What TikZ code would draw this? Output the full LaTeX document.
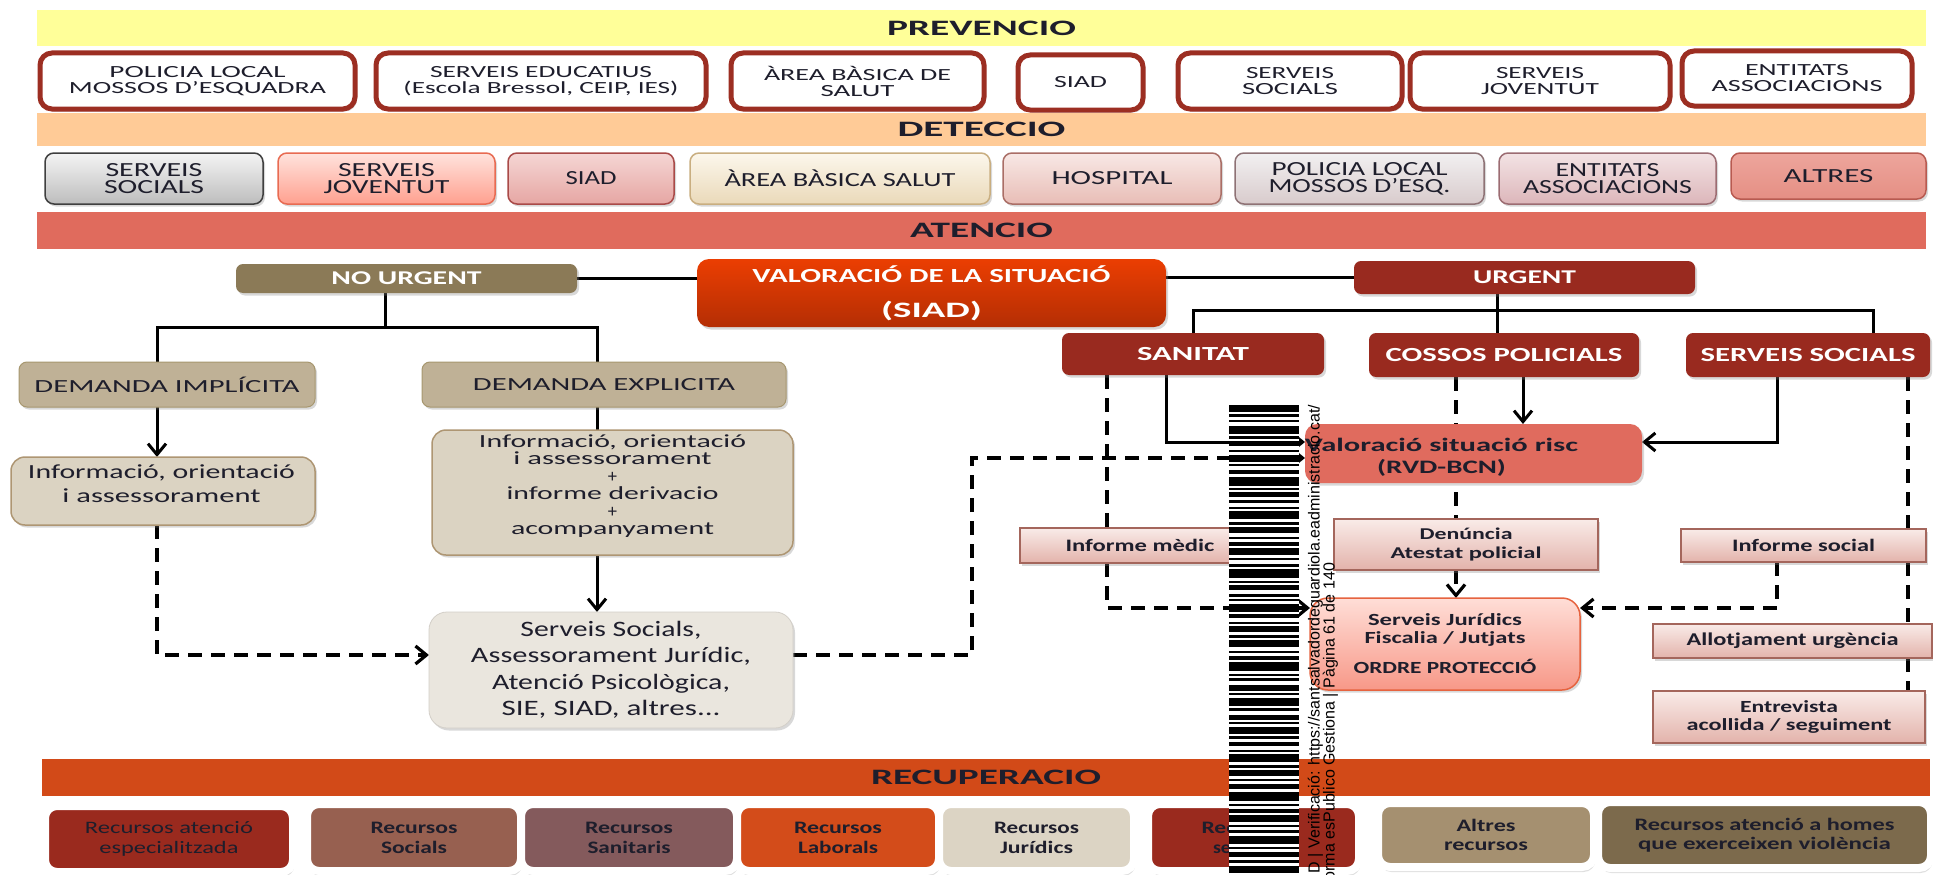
\documentclass[tikz,border=0pt]{standalone}
\usepackage{fontspec}
\setmainfont{Carlito}
\newfontfamily\stampfont{Liberation Sans}
\usepackage{graphicx}
\usetikzlibrary{arrows.meta,shadows}
\pgfdeclarelayer{conn}
\pgfsetlayers{conn,main}
\newcommand\sw[2]{\resizebox{#1pt}{\height}{#2}}
\newcommand\fs[2]{\fontsize{#1}{#2}\selectfont}
\definecolor{txt}{HTML}{1E1E2C}
\definecolor{cprev}{HTML}{FFFF99}
\definecolor{cdet}{HTML}{FFCB97}
\definecolor{caten}{HTML}{E06B5D}
\definecolor{crec}{HTML}{D24A18}
\definecolor{pred}{HTML}{9C2E22}
\definecolor{urg}{HTML}{992A1F}
\definecolor{nourgc}{HTML}{8B7A57}
\definecolor{demc}{HTML}{BFB196}
\definecolor{demd}{HTML}{A7976F}
\definecolor{infc}{HTML}{DBD3C2}
\definecolor{infd}{HTML}{AE9673}
\definecolor{ssc}{HTML}{EAE6DE}
\definecolor{rvdc}{HTML}{E06B5E}
\definecolor{pkt}{HTML}{F9EBE8}
\definecolor{pkb}{HTML}{E3B3AB}
\definecolor{pkd}{HTML}{A4665C}
\definecolor{sjt}{HTML}{FFDED7}
\definecolor{sjb}{HTML}{F79888}
\definecolor{sjd}{HTML}{E6633F}
\definecolor{vst}{HTML}{EB3E02}
\definecolor{vsb}{HTML}{B42E04}
\definecolor{d1t}{HTML}{F4F4F4}\definecolor{d1b}{HTML}{BDBDBD}\definecolor{d1d}{HTML}{3F3F3F}
\definecolor{d2t}{HTML}{FFE3DD}\definecolor{d2b}{HTML}{FFA08F}\definecolor{d2d}{HTML}{E86B52}
\definecolor{d3t}{HTML}{F5D6D4}\definecolor{d3b}{HTML}{E6A6A3}\definecolor{d3d}{HTML}{A94A48}
\definecolor{d4t}{HTML}{FCF7EC}\definecolor{d4b}{HTML}{EAD9B9}\definecolor{d4d}{HTML}{C9AE80}
\definecolor{d5t}{HTML}{F8E8E5}\definecolor{d5b}{HTML}{E8BDB6}\definecolor{d5d}{HTML}{AA6E66}
\definecolor{d6t}{HTML}{F2F0F1}\definecolor{d6b}{HTML}{D8CBCC}\definecolor{d6d}{HTML}{8E7275}
\definecolor{d7t}{HTML}{F3E3E4}\definecolor{d7b}{HTML}{DCB6BA}\definecolor{d7d}{HTML}{9C6C72}
\definecolor{d8t}{HTML}{EDA59C}\definecolor{d8b}{HTML}{E58F84}\definecolor{d8d}{HTML}{B85A50}
\definecolor{r1}{HTML}{9A2A1E}
\definecolor{r2}{HTML}{976050}
\definecolor{r3}{HTML}{845A5C}
\definecolor{r4}{HTML}{D34C1A}
\definecolor{r5}{HTML}{DCD4C4}
\definecolor{r6}{HTML}{9A2A1E}
\definecolor{r7}{HTML}{A59070}
\definecolor{r8}{HTML}{7C6A4C}
\tikzset{
 every node/.style={inner sep=0pt, outer sep=0pt, align=center, text=txt, font=\fs{18}{20}},
 wh/.style 2 args={minimum width=#1pt, minimum height=#2pt},
 shd/.style={drop shadow={shadow xshift=2pt, shadow yshift=-2.5pt, opacity=0.3}},
 band/.style={font=\fs{22}{24}\bfseries},
 pbox/.style={draw=pred, line width=5pt, fill=white, rounded corners=12pt, shd, font=\fs{17}{16}},
 dbox/.style n args={3}{top color=#1, bottom color=#2, draw=#3, line width=1.5pt, rounded corners=9pt, shd, font=\fs{20}{17}},
 ubox/.style={fill=urg, rounded corners=7pt, shd, text=white, font=\fs{20}{22}\bfseries},
 dem/.style={fill=demc, draw=demd, line width=1pt, rounded corners=8pt, shd, font=\fs{18.5}{20}},
 info/.style={fill=infc, draw=infd, line width=1.5pt, rounded corners=14pt, shd},
 ssb/.style={fill=ssc, draw=ssc!90!black, line width=.8pt, rounded corners=18pt, shd},
 rvdb/.style={fill=rvdc, rounded corners=12pt, shd},
 pk/.style={top color=pkt, bottom color=pkb, draw=pkd, line width=1.3pt, shd, font=\fs{17.5}{19}\bfseries},
 sjbox/.style={top color=sjt, bottom color=sjb, draw=sjd, line width=1.5pt, rounded corners=18pt, shd, font=\fs{17}{18}\bfseries},
 bb/.style={draw=white, line width=8pt, rounded corners=12pt, drop shadow={shadow xshift=1.5pt, shadow yshift=-5pt, opacity=0.25}, font=\fs{17.5}{20}\bfseries},
 sl/.style={line width=3pt},
 dl/.style={line width=3.2pt, dash pattern=on 14pt off 9pt},
 arr/.style={-{Straight Barb[length=11pt,width=18pt]}},
}
\begin{document}
\begin{tikzpicture}[x=1pt,y=-1pt]
\useasboundingbox (0,0) rectangle (1933,875);
\begin{scope}
\clip (0,0) rectangle (1933,875);
% bands
\node[band, fill=cprev, wh={1889}{36}] (prev) at (981.5,28) {\sw{189}{PREVENCIO}};
\node[band, fill=cdet, wh={1889}{33}] (det) at (981.5,129.5) {\sw{168}{DETECCIO}};
\node[band, fill=caten, wh={1889}{37}] (aten) at (981.5,230.5) {\sw{143}{ATENCIO}};
\node[band, fill=crec, wh={1888}{37}] (recu) at (986,777.5) {\sw{230}{RECUPERACIO}};
% prevencio
\node[pbox, wh={315}{56}] (p1) at (197.5,81) {\sw{176}{POLICIA LOCAL}\\\sw{257}{MOSSOS D’ESQUADRA}};
\node[pbox, wh={330}{56}] (p2) at (541,81) {\sw{222}{SERVEIS EDUCATIUS}\\\sw{275}{(Escola Bressol, CEIP, IES)}};
\node[pbox, wh={253}{56}] (p3) at (857.5,81) {\sw{187}{ÀREA BÀSICA DE}\\\sw{74}{SALUT}};
\node[pbox, wh={125}{55}] (p4) at (1080.5,82.5) {\sw{53}{SIAD}};
\node[pbox, wh={224}{56}] (p5) at (1290,81) {\sw{88}{SERVEIS}\\\sw{96}{SOCIALS}};
\node[pbox, wh={260}{56}] (p6) at (1540,81) {\sw{88}{SERVEIS}\\\sw{118}{JOVENTUT}};
\node[pbox, wh={230}{55}] (p7) at (1797,78.5) {\sw{104}{ENTITATS}\\\sw{171}{ASSOCIACIONS}};
% deteccio
\node[dbox={d1t}{d1b}{d1d}, wh={218}{51}] (d1) at (154,178.5) {\sw{97}{SERVEIS}\\\sw{100}{SOCIALS}};
\node[dbox={d2t}{d2b}{d2d}, wh={217}{51}] (d2) at (386.5,178.5) {\sw{97}{SERVEIS}\\\sw{126}{JOVENTUT}};
\node[dbox={d3t}{d3b}{d3d}, wh={166}{51}] (d3) at (591,178.5) {\sw{51}{SIAD}};
\node[dbox={d4t}{d4b}{d4d}, wh={300}{51}] (d4) at (840,178.5) {\sw{231}{ÀREA BÀSICA SALUT}};
\node[dbox={d5t}{d5b}{d5d}, wh={218}{51}] (d5) at (1112,178.5) {\sw{121}{HOSPITAL}};
\node[dbox={d6t}{d6b}{d6d}, wh={249}{51}] (d6) at (1359.5,178.5) {\sw{176}{POLICIA LOCAL}\\\sw{182}{MOSSOS D’ESQ.}};
\node[dbox={d7t}{d7b}{d7d}, wh={217}{51}] (d7) at (1607.5,178.5) {\sw{104}{ENTITATS}\\\sw{169}{ASSOCIACIONS}};
\node[dbox={d8t}{d8b}{d8d}, wh={195}{46}] (d8) at (1828.5,176) {\sw{90}{ALTRES}};
% atencio
\node[ubox, fill=nourgc, wh={341}{29}, font=\fs{19.5}{20}\bfseries] (nourg) at (406.5,278.5) {\sw{150}{NO URGENT}};
\node[top color=vst, bottom color=vsb, rounded corners=12pt, shd, text=white, font=\fs{20}{35}\bfseries, wh={469}{68}] (valsit) at (931.5,293) {\sw{358}{VALORACIÓ DE LA SITUACIÓ}\\{\fontsize{22}{35}\selectfont\sw{101}{(SIAD)}}};
\node[ubox, wh={341}{33}, font=\fs{19.5}{20}\bfseries] (urgent) at (1524.5,277.5) {\sw{103}{URGENT}};
\node[ubox, wh={262}{42}] (sanitat) at (1193,354) {\sw{112}{SANITAT}};
\node[ubox, wh={270}{44}] (cossos) at (1504,355) {\sw{237}{COSSOS POLICIALS}};
\node[ubox, wh={244}{44}] (ssurg) at (1808,355) {\sw{215}{SERVEIS SOCIALS}};
\node[dem, wh={296}{45}] (impl) at (167,384.5) {\sw{265}{DEMANDA IMPLÍCITA}};
\node[dem, wh={364}{45}] (expl) at (604,384.5) {\sw{262}{DEMANDA EXPLICITA}};
\node[info, wh={304}{68}] (infoL) at (163,491) {};
\node[font=\fs{20}{24}] (infoLt) at (161.5,484) {\sw{267}{Informació, orientació}\\\sw{198}{i assessorament}};
\node[info, wh={361}{125}] (infoE) at (612.5,492.5) {};
\node[font=\fs{18.5}{17.5}] (infoEt) at (612.5,486) {\sw{267}{Informació, orientació}\\\sw{198}{i assessorament}\\+\\\sw{212}{informe derivacio}\\+\\\sw{203}{acompanyament}};
\node[ssb, wh={364}{116}, font=\fs{22}{26.5}] (ss) at (611,670) {\sw{181}{Serveis Socials,}\\\sw{280}{Assessorament Jurídic,}\\\sw{238}{Atenció Psicològica,}\\\sw{219}{SIE, SIAD, altres...}};
\node[rvdb, wh={337}{59}] (rvd) at (1473.5,453.5) {};
\node[font=\fs{19}{22}\bfseries] (rvdt) at (1441.5,457) {\sw{273}{Valoració situació risc}\\\sw{129}{(RVD-BCN)}};
\node[pk, wh={240}{35}] (imed) at (1140,545.5) {\sw{149}{Informe mèdic}};
\node[pk, wh={264}{51}, font=\fs{16.5}{19}\bfseries] (den) at (1466,544.5) {\sw{93}{Denúncia}\\\sw{151}{Atestat policial}};
\node[pk, wh={245}{33}] (isoc) at (1803.5,545.5) {\sw{143}{Informe social}};
\node[sjbox, wh={270}{92}] (sj) at (1445,644) {\sw{154}{Serveis Jurídics}\\\sw{161}{Fiscalia / Jutjats}\\[12pt]\sw{183}{ORDRE PROTECCIÓ}};
\node[pk, wh={279}{34}, font=\fs{18}{18}\bfseries] (allot) at (1792.5,641) {\sw{212}{Allotjament urgència}};
\node[pk, wh={272}{52}, font=\fs{17}{18}\bfseries] (entrev) at (1789,717) {\sw{98}{Entrevista}\\\sw{205}{acollida / seguiment}};
% recuperacio
\node[bb, fill=r1, wh={248}{66}, font=\fs{17.5}{20}] (b1) at (169,839) {\sw{168}{Recursos atenció}\\\sw{139}{especialitzada}};
\node[bb, fill=r2, wh={214}{67}] (b2) at (414,837.5) {\sw{87}{Recursos}\\\sw{66}{Socials}};
\node[bb, fill=r3, wh={216}{67}] (b3) at (629,837.5) {\sw{88}{Recursos}\\\sw{83}{Sanitaris}};
\node[bb, fill=r4, wh={202}{67}] (b4) at (838,837.5) {\sw{88}{Recursos}\\\sw{80}{Laborals}};
\node[bb, fill=r5, wh={195}{67}] (b5) at (1036.5,837.5) {\sw{85}{Recursos}\\\sw{73}{Jurídics}};
\node[bb, fill=r6, wh={211}{67}] (b6) at (1253.5,837.5) {};
\node[font=\fs{17.5}{20}\bfseries] (b6t) at (1245,837.5) {\sw{87}{Recursos}\\\makebox[64pt][l]{\sw{18}{se}}};
\node[bb, fill=r7, wh={216}{64}, font=\fs{17.5}{19}\bfseries] (b7) at (1486,835) {\sw{59}{Altres}\\\sw{84}{recursos}};
\node[bb, fill=r8, wh={333}{66}, font=\fs{17.5}{18.5}\bfseries] (b8) at (1764.5,835) {\sw{260}{Recursos atenció a homes}\\\sw{253}{que exerceixen violència}};
% stamp
\fill[white] (1229,403) rectangle (1299,875);
\foreach \a/\h in {405/7,414/3,420/2,426/8,436/3,441/5,450/2,455/7,464/2,470/4,477/9,488/2,492/5,500/3,507/2,511/8,522/3,527/6,537/2,542/4,548/7,558/2,564/3,569/9,581/2,585/5,594/3,599/2,604/8,614/4,622/2,626/6,635/3,640/7,651/2,656/4,662/9,674/2,678/3,685/6,693/2,698/8,708/3,715/5,722/2,727/7,736/3,742/4,750/2,754/8,765/3,770/6,779/2,784/5,792/9,804/2,809/4,815/7,825/2,830/3,836/8,847/2,852/5,860/3,866/7}
  \fill[black] (1229,\a) rectangle (1299,{\a+\h});
\node[rotate=90, anchor=base east, text=black, font=\stampfont\fontsize{16}{16}\selectfont] (stamp1) at (1319.5,405) {D | Verificació: https://santsalvadordeguardiola.eadministracio.cat/};
\node[rotate=90, anchor=base east, text=black, font=\stampfont\fontsize{16}{16}\selectfont] (stamp2) at (1334.5,563) {orma esPublico Gestiona | Pàgina 61 de 140};
\end{scope}
% connectors
\begin{pgfonlayer}{conn}
\fill[white] (0,0) rectangle (1933,875);
\coordinate (jn) at (385,327);
\coordinate (ju) at (1497,310);
\coordinate (cm) at (972,458);
\draw[sl] (nourg.east) -- (nourg.east -| valsit.west);
\draw[sl] (urgent.west -| valsit.east) -- (urgent.west);
\draw[sl] (nourg.south -| jn) -- (jn);
\draw[sl] (impl.north -| 157,0) |- (jn) -| (expl.north -| 597,0);
\draw[sl,arr] (impl.south -| 157,0) -- (infoL.north -| 157,0);
\draw[sl] (expl.south -| 597,0) -- (infoE.north -| 597,0);
\draw[sl,arr] (infoE.south -| 597,0) -- (ss.north -| 597,0);
\draw[dl,arr] (infoL.south -| 157,0) |- (ss.west |- 0,655);
\draw[dl,arr] (ss.east |- 0,655) -| (cm) -- (rvd.west |- cm);
\draw[sl] (urgent.south -| ju) -- (ju);
\draw[sl] (sanitat.north) |- (ju) -| (ssurg.north -| 1873,0);
\draw[sl] (ju) -- (cossos.north -| ju);
\draw[sl,arr] (sanitat.south -| 1166,0) |- (rvd.west |- 0,442);
\draw[dl] (sanitat.south -| 1107,0) -- (imed.north -| 1107,0);
\draw[dl,arr] (imed.south -| 1107,0) |- (sj.west |- 0,608);
\draw[dl] (cossos.south -| 1456,0) -- (den.north -| 1456,0);
\draw[sl,arr] (cossos.south -| 1523,0) -- (rvd.north -| 1523,0);
\draw[dl,arr] (den.south -| 1456,0) -- (sj.north -| 1456,0);
\draw[sl,arr] (ssurg.south -| 1777,0) |- (rvd.east |- 0,442);
\draw[dl] (ssurg.south -| 1908,0) -- (isoc.north -| 1908,0);
\draw[dl] (isoc.south -| 1908,0) -- (allot.north -| 1908,0);
\draw[dl] (allot.south -| 1908,0) -- (entrev.north -| 1908,0);
\draw[dl,arr] (isoc.south -| 1777,0) |- (sj.east |- 0,608);
\end{pgfonlayer}
\end{tikzpicture}
\end{document}
